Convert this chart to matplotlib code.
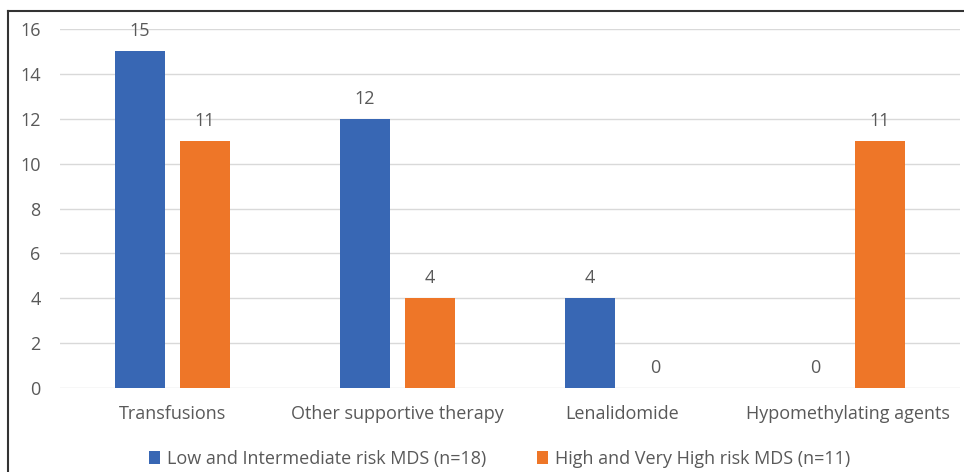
import numpy as np
import matplotlib.pyplot as plt
from matplotlib.lines import Line2D

# data
categories = ["Transfusions", "Other supportive therapy", "Lenalidomide", "Hypomethylating agents"]
low_risk = [15, 12, 4, 0]
high_risk = [11, 4, 0, 11]
low_label = "Low and Intermediate risk MDS (n=18)"
high_label = "High and Very High risk MDS (n=11)"

blue = "#3867B4"
orange = "#EE7628"
grey_text = "#595959"

plt.rcParams['font.family'] = ['Open Sans', 'DejaVu Sans']

fig = plt.figure(figsize=(9.64, 4.72), dpi=100)
ax = fig.add_axes([60 / 964, 84 / 472, 900 / 964, 359 / 472])

x = np.arange(len(categories))
w = 0.222
off = 0.144
b1 = ax.bar(x - off, low_risk, w, color=blue, label=low_label, zorder=3)
b2 = ax.bar(x + off, high_risk, w, color=orange, label=high_label, zorder=3)

for bars in (b1, b2):
    ax.bar_label(bars, padding=8, fontsize=13, color=grey_text)

ax.set_xlim(-0.5, 3.5)
ax.set_ylim(0, 16)
ax.set_yticks(range(0, 17, 2))
ax.set_xticks(x)
ax.set_xticklabels(categories)
ax.tick_params(axis='both', length=0, labelsize=13, labelcolor=grey_text)
ax.tick_params(axis='x', pad=12)
ax.tick_params(axis='y', pad=14)
ax.grid(axis='y', color="#D9D9D9", linewidth=1, zorder=0)
for s in ax.spines.values():
    s.set_visible(False)

fig.legend(loc='center', bbox_to_anchor=(500 / 964, 13 / 472), ncol=2, frameon=False,
           fontsize=13, labelcolor=grey_text, handlelength=0.6, handleheight=0.7,
           handletextpad=0.4, columnspacing=2.8)

# outer frame of the original image
fig.add_artist(Line2D([8 / 964, 8 / 964], [0, 1 - 11 / 472], color="#333333", lw=1.5))
fig.add_artist(Line2D([8 / 964, 1], [1 - 11 / 472, 1 - 11 / 472], color="#333333", lw=1.5))

fig.savefig("out.png", dpi=100)
